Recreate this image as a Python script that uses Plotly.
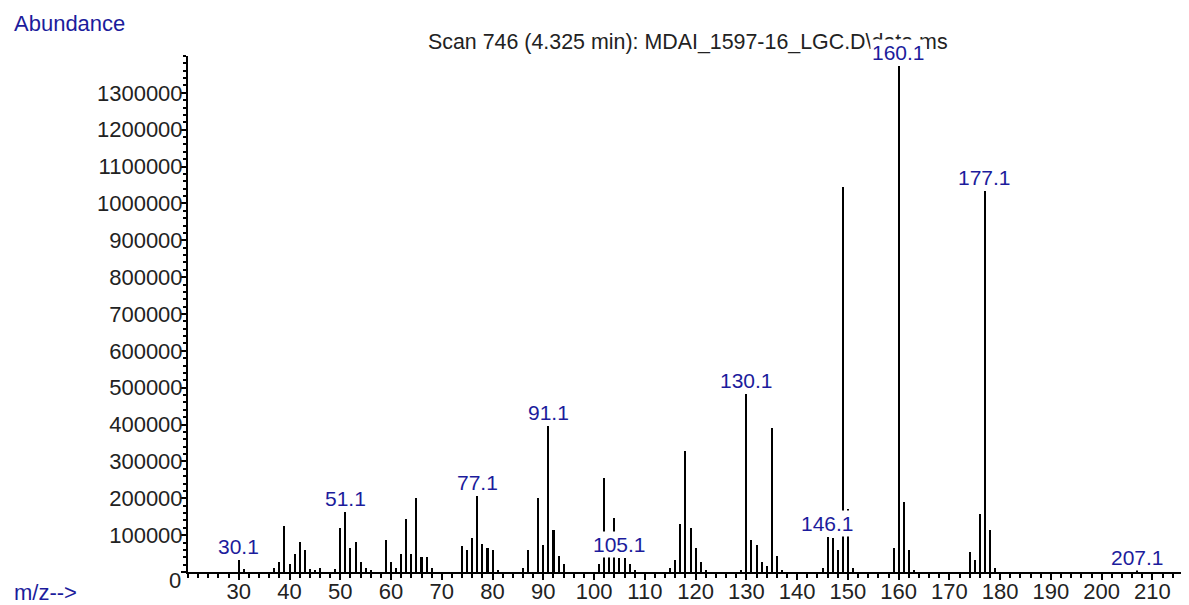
import plotly.graph_objects as go

# ---- data (m/z, abundance) ----
mz = [30, 31, 37, 38, 39, 40, 41, 42, 43, 44, 45, 46, 49, 50, 51, 52, 53, 54, 55, 56,
      59, 60, 61, 62, 63, 64, 65, 66, 67, 68, 74, 75, 76, 77, 78, 79, 80, 81, 86, 87,
      89, 90, 91, 92, 93, 94, 101, 102, 103, 104, 105, 106, 107, 108, 115, 116, 117,
      118, 119, 120, 121, 122, 129, 130, 131, 132, 133, 134, 135, 136, 137, 145, 146,
      147, 148, 149, 150, 151, 159, 160, 161, 162, 163, 174, 175, 176, 177, 178, 179, 207]
abundance = [33000, 7000, 10000, 27000, 125000, 22000, 49000, 81000, 60000, 7000, 5000,
             11000, 7000, 120000, 164000, 66000, 81000, 28000, 12000, 6000,
             87000, 27000, 12000, 49000, 143000, 49000, 201000, 40000, 40000, 12000,
             70000, 60000, 93000, 206000, 76000, 65000, 60000, 5000, 12000, 60000,
             202000, 72000, 397000, 114000, 43000, 23000, 23000, 255000, 40000, 147000,
             37000, 38000, 22000, 5000, 10000, 33000, 130000, 327000, 120000, 66000,
             28000, 5000, 5000, 484000, 87000, 72000, 26000, 15000, 392000, 43000, 5000,
             10000, 94000, 92000, 60000, 1045000, 170000, 12000, 66000, 1373000, 189000,
             60000, 5000, 55000, 33000, 158000, 1033000, 114000, 10000, 3000]

label_mz = [30, 51, 77, 91, 105, 130, 146, 160, 177, 207]
label_text = ["30.1", "51.1", "77.1", "91.1", "105.1", "130.1", "146.1", "160.1", "177.1", "207.1"]

x_tick_vals = [30, 40, 50, 60, 70, 80, 90, 100, 110, 120, 130, 140, 150, 160, 170, 180, 190, 200, 210]
y_tick_vals = [0, 100000, 200000, 300000, 400000, 500000, 600000, 700000, 800000,
               900000, 1000000, 1100000, 1200000, 1300000]
y_tick_text = [""] + [str(v) for v in y_tick_vals[1:]]

title_text = "Scan 746 (4.325 min): MDAI_1597-16_LGC.D\\data.ms"

# ---- styling ----
FONT = "Liberation Sans, Arial, sans-serif"
BLUE = "#1c1c9c"
TXT = "#222222"
OFF = 8                      # page body margin offset
W, H = 1189 - OFF, 605 - OFF
ML, MR, MT, MB = 188 - OFF, 1, 56 - OFF, 33
PW, PH = W - ML - MR, H - MT - MB


def px_to_paper_x(px):
    return (px - OFF - ML) / PW


def px_to_paper_y(py):
    return (H - MB - (py - OFF)) / PH


fig = go.Figure()
fig.add_trace(go.Bar(x=mz, y=abundance, width=0.4,
                     marker=dict(color="black", line=dict(width=0)),
                     hoverinfo="skip"))

annotations = [
    dict(text=title_text, xref="paper", yref="paper",
         x=px_to_paper_x(688), y=px_to_paper_y(42), xanchor="center", yanchor="middle",
         showarrow=False, font=dict(family=FONT, size=21.4, color=TXT)),
    dict(text="Abundance", xref="paper", yref="paper",
         x=px_to_paper_x(12), y=px_to_paper_y(24), xanchor="left", yanchor="middle",
         showarrow=False, font=dict(family=FONT, size=22, color=BLUE)),
    dict(text="m/z-->", xref="paper", yref="paper",
         x=px_to_paper_x(12), y=px_to_paper_y(592), xanchor="left", yanchor="middle",
         showarrow=False, font=dict(family=FONT, size=22, color=BLUE)),
    dict(text="0", xref="paper", yref="paper",
         x=px_to_paper_x(183), y=px_to_paper_y(580.5), xanchor="right", yanchor="middle",
         showarrow=False, font=dict(family=FONT, size=22, color=TXT)),
]
ab_map = dict(zip(mz, abundance))
for m, t in zip(label_mz, label_text):
    annotations.append(dict(text=t, x=m, y=ab_map[m], xref="x", yref="y",
                            xanchor="center", yanchor="bottom", showarrow=False,
                            bgcolor="white", borderpad=1,
                            font=dict(family=FONT, size=21, color=BLUE)))

fig.update_layout(
    width=W, height=H, autosize=False,
    margin=dict(l=ML, r=MR, t=MT, b=MB, autoexpand=False),
    paper_bgcolor="white", plot_bgcolor="white",
    showlegend=False,
    font=dict(family=FONT, size=22, color=TXT),
    annotations=annotations,
    bargap=0,
)
fig.update_xaxes(range=[20, 217], tickmode="array", tickvals=x_tick_vals, automargin=False,
                 showgrid=False, zeroline=False, showline=True, linecolor="black", linewidth=2,
                 ticks="outside", ticklen=6, tickwidth=2, tickcolor="black",
                 ticklabelstandoff=-7,
                 minor=dict(dtick=2, tick0=0, ticks="outside", ticklen=4, tickwidth=2,
                            tickcolor="black", showgrid=False),
                 tickfont=dict(family=FONT, size=22, color=TXT))
fig.update_yaxes(range=[0, 1400000], tickmode="array", tickvals=y_tick_vals, ticktext=y_tick_text,
                 automargin=False,
                 showgrid=False, zeroline=False, showline=True, linecolor="black", linewidth=2,
                 ticks="outside", ticklen=5, tickwidth=2, tickcolor="black",
                 ticklabelstandoff=-6,
                 minor=dict(dtick=20000, tick0=0, ticks="outside", ticklen=3, tickwidth=1.5,
                            tickcolor="black", showgrid=False),
                 tickfont=dict(family=FONT, size=22, color=TXT))

fig.write_html("out.html", config={"displayModeBar": False})
